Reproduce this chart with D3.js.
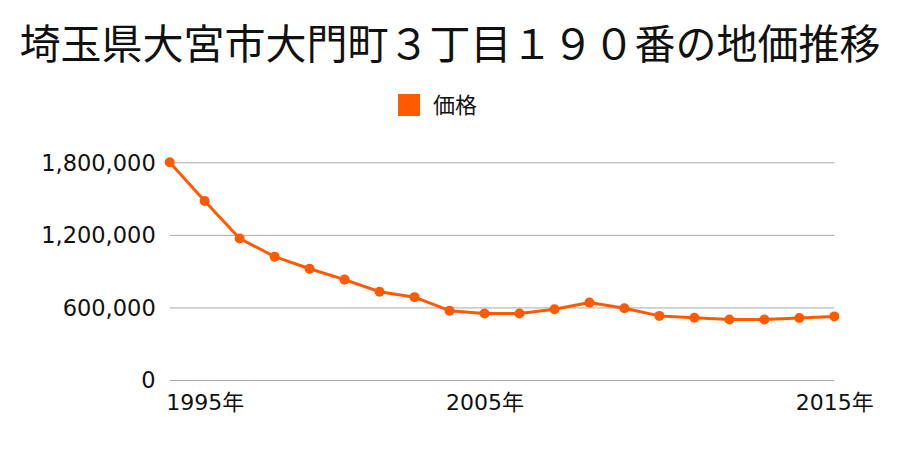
<!DOCTYPE html>
<html>
<head>
<meta charset="utf-8">
<script src="https://cdn.jsdelivr.net/npm/d3@7"></script>
<style>
  body { margin: 0; background: #fff; }
  svg text { font-family: "DejaVu Sans", "Noto Sans CJK JP", sans-serif; fill: #111; }
  svg text.cjk { font-family: "Noto Sans CJK JP", sans-serif; }
</style>
</head>
<body>
<div id="container"></div>
<script>
const title = "埼玉県大宮市大門町３丁目１９０番の地価推移";
const seriesName = "価格";
// one entry per survey point (20 points)
const prices = [1800000, 1480000, 1170000, 1020000, 920000, 830000, 730000, 685000, 573000, 550000,
                550000, 585000, 640000, 593000, 530000, 515000, 500000, 500000, 512000, 526000];
const xTickLabels = ["1995年", "2005年", "2015年"];
const xTickIndex = [1, 9, 19];
const yTicks = [0, 600000, 1200000, 1800000];

const w = 900;
const h = 450;
const color = "#ff5a00";

const svg = d3.select("#container")
              .append("svg")
              .attr("width", w)
              .attr("height", h);

const xScale = d3.scalePoint()
                 .domain(d3.range(prices.length))
                 .range([169.7, 834.3]);
const yScale = d3.scaleLinear()
                 .domain([0, 1800000])
                 .range([380, 162.3]);

// title
svg.append("text")
   .attr("class", "cjk")
   .attr("x", w / 2)
   .attr("y", 59)
   .attr("text-anchor", "middle")
   .style("font-size", "41px")
   .text(title);

// legend
svg.append("rect")
   .attr("x", 398)
   .attr("y", 94)
   .attr("width", 22)
   .attr("height", 22)
   .attr("fill", color);
svg.append("text")
   .attr("class", "cjk")
   .attr("x", 433)
   .attr("y", 113)
   .style("font-size", "22px")
   .text(seriesName);

// y grid + labels
const yAxis = d3.axisLeft(yScale)
                .tickValues(yTicks)
                .tickSize(-(834.3 - 169.7))
                .tickPadding(14)
                .tickFormat(d3.format(","));
const gy = svg.append("g")
              .attr("transform", "translate(169.7,0)")
              .call(yAxis);
gy.select(".domain").remove();
gy.selectAll("line").attr("stroke", "#aaa").attr("stroke-width", 1);
gy.selectAll("text")
  .style("font-size", "22.5px")
  .attr("dy", "0.35em");

// x labels
const xAxis = d3.axisBottom(xScale)
                .tickValues(xTickIndex)
                .tickSize(0)
                .tickPadding(14)
                .tickFormat((d, i) => xTickLabels[i]);
const gx = svg.append("g")
              .attr("transform", "translate(0,380)")
              .call(xAxis);
gx.select(".domain").remove();
gx.selectAll("text").style("font-size", "22px");

// line
const line = d3.line()
               .x((d, i) => xScale(i))
               .y((d) => yScale(d));
svg.append("path")
   .datum(prices)
   .attr("fill", "none")
   .attr("stroke", color)
   .attr("stroke-width", 3)
   .attr("stroke-linejoin", "round")
   .attr("d", line);

svg.selectAll("circle")
   .data(prices)
   .enter()
   .append("circle")
   .attr("cx", (d, i) => xScale(i))
   .attr("cy", (d) => yScale(d))
   .attr("r", 5)
   .attr("fill", color);
</script>
</body>
</html>
